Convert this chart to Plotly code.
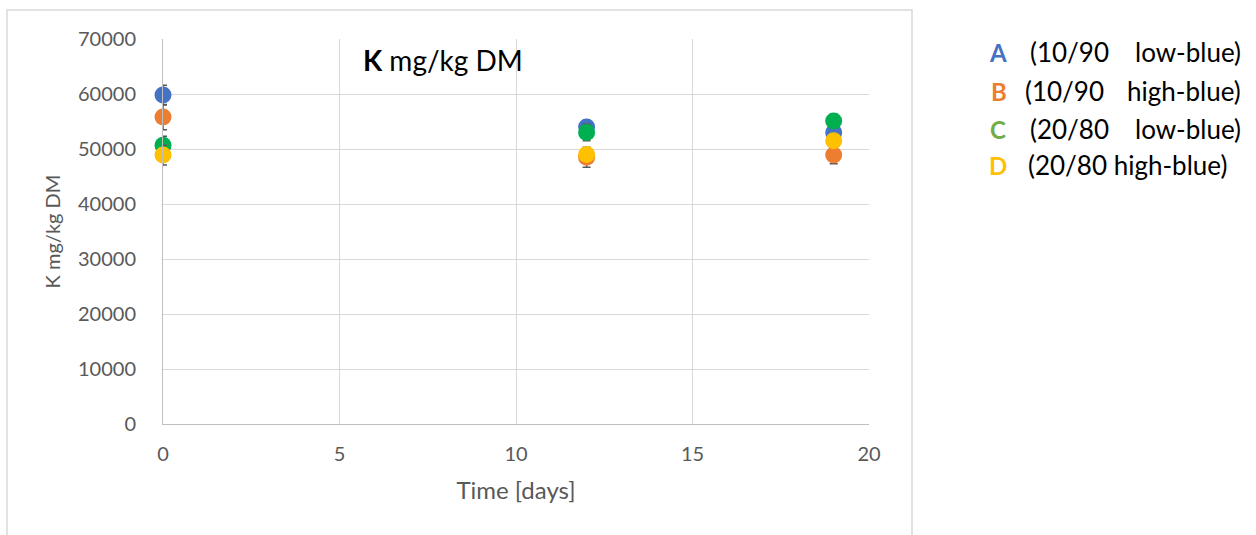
import plotly.graph_objects as go

# Sampling days
days = [0, 12, 19]

# K content (mg/kg DM) per treatment, mean and error
k_a = [59800, 54000, 53000]
k_b = [55800, 48500, 48900]
k_c = [50700, 53000, 55100]
k_d = [48900, 49000, 51500]
err_a = [1800, 1200, 1500]
err_b = [2300, 1800, 1600]
err_c = [1600, 1500, 1200]
err_d = [1800, 1200, 1200]

y_ticks = [0, 10000, 20000, 30000, 40000, 50000, 60000, 70000]
x_ticks = [0, 5, 10, 15, 20]

letters = ["A", "B", "C", "D"]
ratios = ["(10/90", "(10/90", "(20/80", "(20/80"]
lights = ["low-blue)", "high-blue)", "low-blue)", "high-blue)"]

marker_colors = ["#4472C4", "#ED7D31", "#00B050", "#FFC000"]
letter_colors = ["#4472C4", "#ED7D31", "#70AD47", "#FFC000"]

FONT = "Lato"
W, H = 1256, 535
L, R, T, B = 163, 387, 39, 111
PW, PH = W - L - R, H - T - B


def px(x):
    return (x - L) / PW


def py(y):
    return (H - B - y) / PH


fig = go.Figure()
for vals, errs, col, name in zip([k_a, k_b, k_c, k_d], [err_a, err_b, err_c, err_d],
                                 marker_colors, letters):
    fig.add_trace(go.Scatter(
        x=days, y=vals, mode="markers", name=name, cliponaxis=False,
        marker=dict(size=17, color=col),
        error_y=dict(type="data", array=errs, visible=True,
                     color="#595959", thickness=1.5, width=4),
        showlegend=False,
    ))

annotations = [
    dict(text="<b>K</b> mg/kg DM", x=px(443), y=py(60), xref="paper", yref="paper",
         showarrow=False, xanchor="center", yanchor="middle",
         font=dict(family=FONT, size=28, color="#000000")),
]

row_y = [52, 91, 129, 165]
letter_x = [987, 989, 988, 987]
ratio_x = [1028, 1023, 1028, 1026]
for i in range(4):
    annotations.append(dict(
        text="<b>%s</b>" % letters[i], x=px(letter_x[i]), y=py(row_y[i]),
        xref="paper", yref="paper", showarrow=False, xanchor="left", yanchor="middle",
        font=dict(family=FONT, size=24, color=letter_colors[i])))
    if i < 3:
        annotations.append(dict(
            text=ratios[i], x=px(ratio_x[i]), y=py(row_y[i]),
            xref="paper", yref="paper", showarrow=False, xanchor="left", yanchor="middle",
            font=dict(family=FONT, size=26, color="#000000")))
        annotations.append(dict(
            text=lights[i], x=px(1243), y=py(row_y[i]),
            xref="paper", yref="paper", showarrow=False, xanchor="right", yanchor="middle",
            font=dict(family=FONT, size=26, color="#000000")))
    else:
        annotations.append(dict(
            text=ratios[i] + " " + lights[i], x=px(ratio_x[i]), y=py(row_y[i]),
            xref="paper", yref="paper", showarrow=False, xanchor="left", yanchor="middle",
            font=dict(family=FONT, size=26, color="#000000")))

fig.update_layout(
    width=W, height=H,
    margin=dict(l=L, r=R, t=T, b=B, pad=0),
    paper_bgcolor="white", plot_bgcolor="white",
    annotations=annotations,
    shapes=[dict(type="rect", xref="paper", yref="paper",
                 x0=px(7), x1=px(912), y0=py(545), y1=py(10),
                 line=dict(color="#d9d9d9", width=1.5), layer="below")],
    xaxis=dict(range=[0, 20], tickvals=x_ticks, ticktext=[str(v) for v in x_ticks],
               showgrid=True, gridcolor="#d9d9d9", gridwidth=1, zeroline=False,
               showline=True, linecolor="#bfbfbf", linewidth=1,
               ticks="", ticklabelstandoff=12,
               tickfont=dict(family=FONT, size=20, color="#595959"),
               title=dict(text="Time [days]", standoff=18,
                          font=dict(family=FONT, size=24, color="#595959"))),
    yaxis=dict(range=[0, 70000], tickvals=y_ticks, ticktext=[str(v) for v in y_ticks],
               showgrid=True, gridcolor="#d9d9d9", gridwidth=1, zeroline=False,
               showline=True, linecolor="#bfbfbf", linewidth=1,
               ticks="", ticklabelstandoff=22,
               tickfont=dict(family=FONT, size=20, color="#595959"),
               title=dict(text="K mg/kg DM", standoff=12,
                          font=dict(family=FONT, size=20, color="#595959"))),
)

fig.write_html("out.html")
